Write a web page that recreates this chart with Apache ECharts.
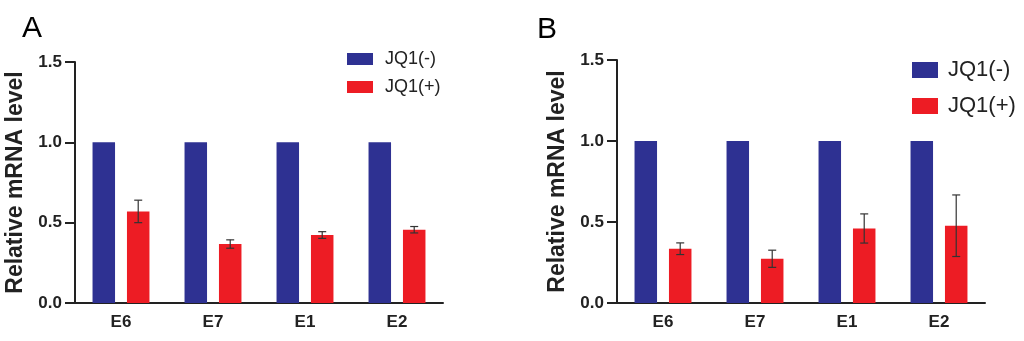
<!DOCTYPE html>
<html>
<head>
<meta charset="utf-8">
<script src="https://cdn.jsdelivr.net/npm/echarts@6/dist/echarts.min.js"></script>
<style>
html,body{margin:0;padding:0;background:#fff;}
#c{width:1024px;height:341px;}
</style>
</head>
<body>
<div id="c"></div>
<script>
var categories = ['E6', 'E7', 'E1', 'E2'];
var seriesNames = ['JQ1(-)', 'JQ1(+)'];
var aMinus = [1, 1, 1, 1];
var aPlus = [0.57, 0.367, 0.423, 0.456];
var aPlusErr = [0.07, 0.026, 0.021, 0.02];
var bMinus = [1, 1, 1, 1];
var bPlus = [0.335, 0.273, 0.46, 0.477];
var bPlusErr = [0.036, 0.053, 0.09, 0.19];
var yTicks = { min: 0, max: 1.5, interval: 0.5 };

var BLUE = '#2e3192', RED = '#ed1c24', INK = '#222';
var FONT = '"Liberation Sans", Arial, sans-serif';
var BAR_W = 22.5, GAP = 0.53;

function errData(mean, err) {
  return mean.map(function (m, i) { return [i, m - err[i], m + err[i]]; });
}
function errRender(params, api) {
  var top = api.coord([api.value(0), api.value(2)]);
  var bot = api.coord([api.value(0), api.value(1)]);
  var cx = top[0] + BAR_W * (1 + GAP) / 2;
  var cap = 4;
  var st = { stroke: '#333', lineWidth: 1.2 };
  return {
    type: 'group',
    children: [
      { type: 'line', shape: { x1: cx, y1: top[1], x2: cx, y2: bot[1] }, style: st },
      { type: 'line', shape: { x1: cx - cap, y1: top[1], x2: cx + cap, y2: top[1] }, style: st },
      { type: 'line', shape: { x1: cx - cap, y1: bot[1], x2: cx + cap, y2: bot[1] }, style: st }
    ]
  };
}
function xAx(gi) {
  return {
    type: 'category', gridIndex: gi, data: categories,
    axisLine: { lineStyle: { color: INK, width: 2 } },
    axisTick: { alignWithLabel: true, length: 6, lineStyle: { color: INK, width: 2 } },
    axisLabel: { color: INK, fontFamily: FONT, fontWeight: 'bold', fontSize: 17, margin: 11 }
  };
}
function yAx(gi) {
  return {
    type: 'value', gridIndex: gi, min: yTicks.min, max: yTicks.max, interval: yTicks.interval,
    name: 'Relative mRNA level', nameLocation: 'middle', nameRotate: 90, nameGap: 48,
    nameTextStyle: { color: INK, fontFamily: FONT, fontWeight: 'bold', fontSize: 23 },
    axisLine: { show: true, lineStyle: { color: INK, width: 2 } },
    axisTick: { show: true, length: 10, lineStyle: { color: INK, width: 2 } },
    splitLine: { show: false },
    axisLabel: { color: INK, fontFamily: FONT, fontWeight: 'bold', fontSize: 17, margin: 13,
      formatter: function (v) { return v.toFixed(1); } }
  };
}
function bar(name, gi, data, color) {
  return { name: name, type: 'bar', xAxisIndex: gi, yAxisIndex: gi, data: data,
    barWidth: BAR_W, barGap: (GAP * 100) + '%', itemStyle: { color: color }, animation: false };
}
function errSeries(gi, mean, err) {
  return { name: 'err' + gi, type: 'custom', xAxisIndex: gi, yAxisIndex: gi,
    data: errData(mean, err), encode: { x: 0, y: [1, 2] }, renderItem: errRender, z: 5, animation: false };
}

var chart = echarts.init(document.getElementById('c'));
chart.setOption({
  animation: false,
  title: [
    { text: 'A', left: 17, top: 9, textStyle: { fontFamily: FONT, fontWeight: 'normal', fontSize: 30, color: '#000' } },
    { text: 'B', left: 532, top: 10, textStyle: { fontFamily: FONT, fontWeight: 'normal', fontSize: 30, color: '#000' } }
  ],
  legend: [
    { data: seriesNames, orient: 'vertical', left: 342, top: 44, icon: 'rect', itemWidth: 26, itemHeight: 12,
      itemGap: 8, textStyle: { color: INK, fontFamily: FONT, fontSize: 18, lineHeight: 20, padding: [0, 0, 0, 7] } },
    { data: seriesNames, orient: 'vertical', left: 907, top: 53, icon: 'rect', itemWidth: 26, itemHeight: 16,
      itemGap: 12, textStyle: { color: INK, fontFamily: FONT, fontSize: 22, lineHeight: 24, padding: [0, 0, 0, 5] } }
  ],
  grid: [
    { left: 75, top: 62, width: 368, height: 241, containLabel: false, outerBoundsMode: 'none' },
    { left: 617, top: 60, width: 368, height: 243, containLabel: false, outerBoundsMode: 'none' }
  ],
  xAxis: [xAx(0), xAx(1)],
  yAxis: [yAx(0), yAx(1)],
  series: [
    bar(seriesNames[0], 0, aMinus, BLUE),
    bar(seriesNames[1], 0, aPlus, RED),
    errSeries(0, aPlus, aPlusErr),
    bar(seriesNames[0], 1, bMinus, BLUE),
    bar(seriesNames[1], 1, bPlus, RED),
    errSeries(1, bPlus, bPlusErr)
  ]
});
</script>
</body>
</html>
